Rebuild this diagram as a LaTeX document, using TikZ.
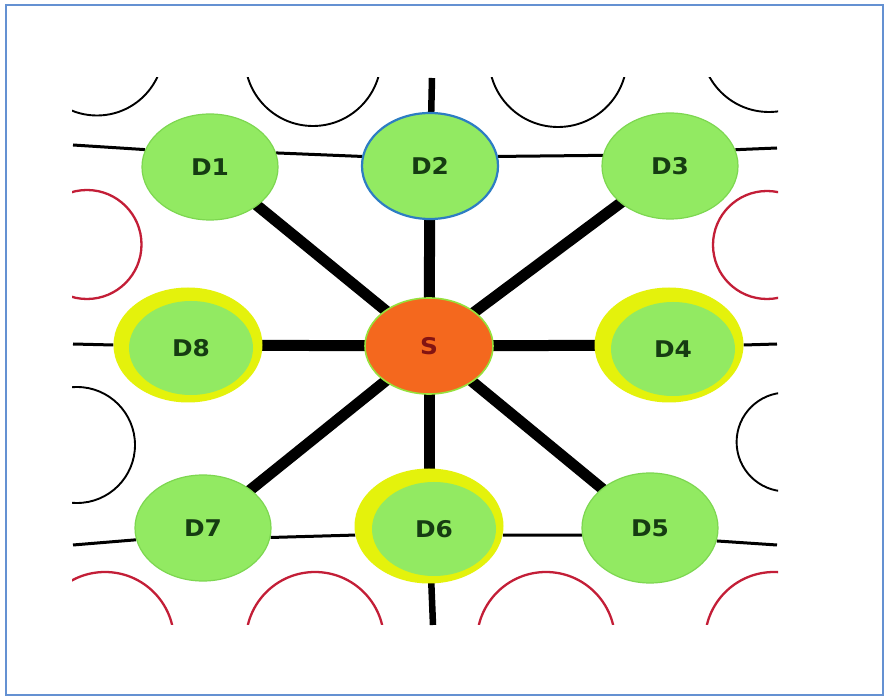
\documentclass[tikz,border=0pt]{standalone}
\usepackage{fontspec}
\newfontfamily\labelfont{DejaVu Sans}
\usetikzlibrary{shapes.geometric,backgrounds}

\definecolor{nodegreen}{RGB}{146,234,98}
\definecolor{nodeedge}{RGB}{125,215,80}
\definecolor{ringyellow}{RGB}{228,242,12}
\definecolor{hubfill}{RGB}{244,104,30}
\definecolor{hubedge}{RGB}{150,225,60}
\definecolor{hubtext}{RGB}{130,20,18}
\definecolor{labeltext}{RGB}{22,60,18}
\definecolor{selblue}{RGB}{45,125,195}
\definecolor{cellred}{RGB}{195,30,55}
\definecolor{framecol}{RGB}{100,145,210}

% slightly widened label text
\newcommand{\devlabel}[1]{\scalebox{1.08}[1]{#1}}

\tikzset{
  labeltype/.style={font=\labelfont\bfseries\fontsize{23}{23}\selectfont, text=labeltext},
  dev/.style={ellipse, fill=nodegreen, draw=nodeedge, line width=1.2pt,
    minimum width=136pt, minimum height=106pt, inner sep=0pt, labeltype},
  ring/.style={ellipse, fill=ringyellow, draw=none,
    minimum width=149pt, minimum height=115pt, inner sep=0pt},
  innerdev/.style={ellipse, fill=nodegreen, draw=none,
    minimum width=124pt, minimum height=94pt, inner sep=0pt, labeltype},
  hub/.style={ellipse, fill=hubfill, draw=hubedge, line width=1.6pt,
    minimum width=128pt, minimum height=96pt, inner sep=0pt, labeltype, text=hubtext},
  link/.style={line width=3pt, black},
  trunk/.style={line width=6.5pt, black},
  spoke/.style={line width=11pt, black},
  cellblack/.style={line width=1.9pt, black},
  cellredline/.style={line width=2.3pt, cellred},
}

\begin{document}
\begin{tikzpicture}[x=1pt, y=-1pt]
  \useasboundingbox (0,0) rectangle (887,700);

  % partial cells around the lattice
  \begin{scope}
    \clip (72,78) rectangle (778,624);
    \draw[cellblack] (97,49) circle (66.5);
    \draw[cellblack] (313,58) circle (68);
    \draw[cellblack] (558,58) circle (69);
    \draw[cellblack] (769,44) circle (68);
    \draw[cellredline] (87,244.5) circle (54.5);
    \draw[cellblack] (77,445) circle (58);
    \draw[cellredline] (767,245) circle (54);
    \draw[cellblack] (786,442) circle (49.4);
    \draw[cellredline] (105,641) circle (69);
    \draw[cellredline] (315,641) circle (69);
    \draw[cellredline] (546,641) circle (69);
    \draw[cellredline] (774,641) circle (69);
  \end{scope}

  % devices
  \node[dev] (d1) at (210,167) {\devlabel{D1}};
  \node[dev, draw=selblue, line width=2.2pt] (d2) at (430,166) {\devlabel{D2}};
  \node[dev] (d3) at (670,166) {\devlabel{D3}};
  \node[ring] (d8r) at (188,345) {};
  \node[innerdev] (d8) at (191,348) {\devlabel{D8}};
  \node[hub] (s) at (429,346) {\devlabel{S}};
  \node[ring] (d4r) at (669,345) {};
  \node[innerdev] (d4) at (673,349) {\devlabel{D4}};
  \node[dev] (d7) at (203,528) {\devlabel{D7}};
  \node[ring] (d6r) at (429,526) {};
  \node[innerdev] (d6) at (434,529) {\devlabel{D6}};
  \node[dev, minimum height=110pt] (d5) at (650,528) {\devlabel{D5}};

  % free ends of the lattice lines
  \coordinate (tl) at (73,145);
  \coordinate (tr) at (777,148);
  \coordinate (ml) at (73,344);
  \coordinate (mr) at (777,344);
  \coordinate (bl) at (73,545);
  \coordinate (br) at (777,545);
  \coordinate (vt) at (432,78);
  \coordinate (vb) at (433,625);

  \begin{pgfonlayer}{background}
    \fill[white] (0,0) rectangle (887,700);
    % lattice lines
    \draw[link] (tl) -- (d1.165);
    \draw[link] (d1.12) -- (d2.172);
    \draw[link] (d2.8) -- (d3.171);
    \draw[link] (d3.14) -- (tr);
    \draw[link] (ml) -- (d8r.west);
    \draw[link] (d4r.east) -- (mr);
    \draw[link] (bl) -- (d7.190);
    \draw[link] (d7.352) -- (d6r.187);
    \draw[link] (d6r.353) -- (d5.186);
    \draw[link] (d5.349) -- (br);
    \draw[trunk] (vt) -- (d2.center);
    \draw[trunk] (d6r.center) -- (vb);
    % spokes from the source
    \draw[spoke] (s.center) -- (d1.center);
    \draw[spoke] (s.center) -- (d2.center);
    \draw[spoke] (s.center) -- (d3.center);
    \draw[spoke] (s.center) -- (d4r.center);
    \draw[spoke] (s.center) -- (d5.center);
    \draw[spoke] (s.center) -- (d6r.center);
    \draw[spoke] (s.center) -- (d7.center);
    \draw[spoke] (s.center) -- (d8r.center);
  \end{pgfonlayer}

  % outer frame
  \draw[framecol, line width=1.8pt] (6,5) rectangle (883,695);
\end{tikzpicture}
\end{document}
